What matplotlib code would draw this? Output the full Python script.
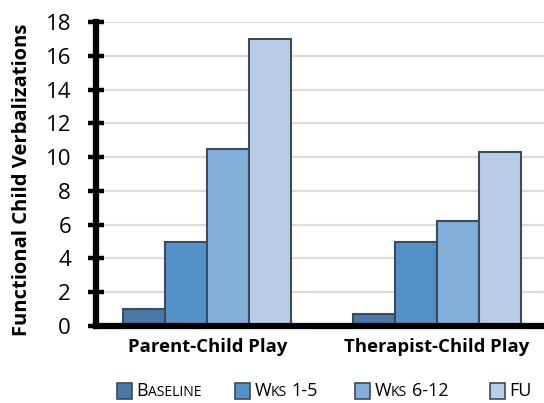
import matplotlib
matplotlib.use("Agg")
import matplotlib.pyplot as plt
from matplotlib.offsetbox import HPacker, TextArea, DrawingArea, AnchoredOffsetbox
from matplotlib.patches import Rectangle
import numpy as np

categories = ["Parent-Child Play", "Therapist-Child Play"]
series_names = ["Baseline", "Wks 1-5", "Wks 6-12", "FU"]
values = {
    "Baseline": [1.0, 0.7],
    "Wks 1-5": [5.0, 5.0],
    "Wks 6-12": [10.5, 6.2],
    "FU": [17.0, 10.3],
}
colors = ["#4a78a8", "#5591c9", "#84afdb", "#b8cde6"]
edge = "#3d4a5c"
yticks = list(range(0, 19, 2))

plt.rcParams["font.family"] = ["Open Sans", "DejaVu Sans"]

fig = plt.figure(figsize=(5.44, 4.03), dpi=100)
ax = fig.add_axes([96 / 544, 77 / 403, 1 - 96 / 544, (326 - 22) / 403])

x = np.arange(len(categories))
w = 0.183
for i, name in enumerate(series_names):
    ax.bar(x + (i - 1.5) * w, values[name], width=w, color=colors[i],
           edgecolor=edge, linewidth=1.5, zorder=3)

ax.set_xlim(-0.485, 1.467)
ax.set_ylim(0, 18)
ax.set_yticks(yticks)
ax.set_yticklabels([str(t) for t in yticks], fontsize=16)
ax.set_xticks(x)
ax.set_xticklabels(categories, fontsize=13.3, fontweight="bold")
ax.tick_params(axis="x", length=0, pad=9)
ax.tick_params(axis="y", direction="inout", length=12, width=3.2, pad=12)
ax.yaxis.grid(True, color="#dcdcdc", linewidth=1.6, zorder=0)
ax.set_axisbelow(True)
for s in ["top", "right"]:
    ax.spines[s].set_visible(False)
ax.spines["left"].set_linewidth(4.5)
ax.spines["bottom"].set_linewidth(4.5)
ax.spines["left"].set_zorder(4)
ax.spines["bottom"].set_zorder(4)
ax.set_ylabel("Functional Child Verbalizations", fontsize=14.5, fontweight="bold")
ax.yaxis.set_label_coords(-0.143, 0.48)


def smallcaps_label(name, big=13, small=10):
    texts = []
    for k, wd in enumerate(name.split(" ")):
        if k > 0:
            texts.append(TextArea(" ", textprops=dict(fontsize=big)))
        if wd.isupper() or not wd[0].isalpha():
            texts.append(TextArea(wd, textprops=dict(fontsize=big)))
            continue
        texts.append(TextArea(wd[0].upper(), textprops=dict(fontsize=big)))
        if len(wd) > 1:
            texts.append(TextArea(wd[1:].upper(), textprops=dict(fontsize=small)))
    return HPacker(children=texts, align="baseline", pad=0, sep=0)


# legend entries placed along the bottom edge
legend_x = [117, 235, 355, 490]
for name, c, px in zip(series_names, colors, legend_x):
    da = DrawingArea(11, 11, 0, 0)
    da.add_artist(Rectangle((0, 0), 11, 11, facecolor=c, edgecolor=edge, linewidth=1.2))
    entry = HPacker(children=[da, smallcaps_label(name)], align="center", pad=0, sep=3)
    box = AnchoredOffsetbox(loc="center left", child=entry, frameon=False,
                            bbox_to_anchor=(px / 544, 12 / 403), bbox_transform=fig.transFigure,
                            borderpad=0, pad=0)
    fig.add_artist(box)

fig.savefig("out.png", dpi=100)
